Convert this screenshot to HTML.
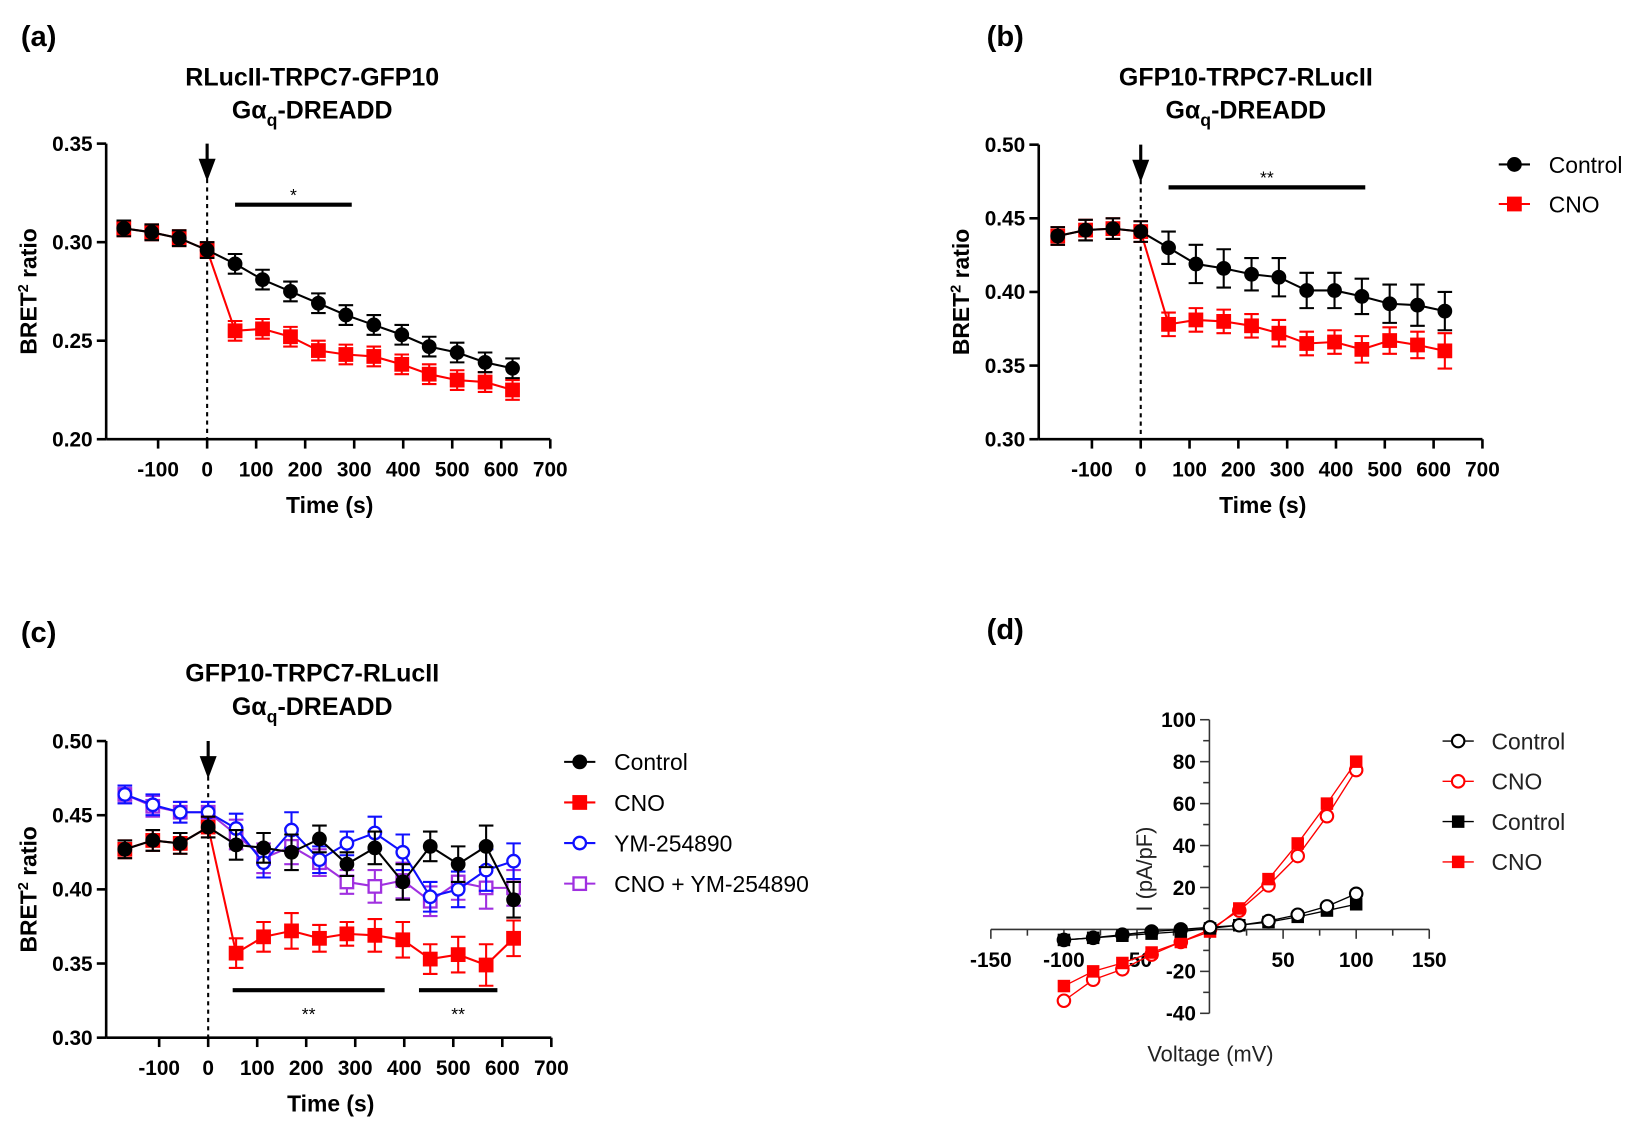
<!DOCTYPE html>
<html><head><meta charset="utf-8"><style>
body{margin:0;background:#fff;}
svg{display:block;font-family:"Liberation Sans",Arial,sans-serif;}
</style></head><body>
<svg id="fig" width="1632" height="1130" viewBox="0 0 1568 1085.7">
<text x="20" y="44" font-size="28" font-weight="bold">(a)</text>
<text x="948" y="44" font-size="28" font-weight="bold">(b)</text>
<text x="20" y="617" font-size="28" font-weight="bold">(c)</text>
<text x="948" y="614" font-size="28" font-weight="bold">(d)</text>
<g id="pa"></g>
<g id="pb"></g>
<g id="pc"></g>
<g id="pd"></g>
</svg>
<script>
const times=[-170,-113,-57,0,57,113,170,227,283,340,397,453,510,567,623];
const xTicks=[-100,0,100,200,300,400,500,600,700];
const aControl=[0.307,0.305,0.302,0.296,0.289,0.281,0.275,0.269,0.263,0.258,0.253,0.247,0.244,0.239,0.236];
const aCNO=[0.307,0.305,0.302,0.296,0.255,0.256,0.252,0.245,0.243,0.242,0.238,0.233,0.230,0.229,0.225];
const aErr=[0.004,0.004,0.004,0.004,0.005,0.005,0.005,0.005,0.005,0.005,0.005,0.005,0.005,0.005,0.005];
const aYTicks=[0.20,0.25,0.30,0.35];
const bControl=[0.438,0.442,0.443,0.441,0.430,0.419,0.416,0.412,0.410,0.401,0.401,0.397,0.392,0.391,0.387];
const bCNO=[0.438,0.442,0.443,0.441,0.378,0.381,0.380,0.377,0.372,0.365,0.366,0.361,0.367,0.364,0.360];
const bErrC=[0.006,0.007,0.007,0.007,0.011,0.013,0.013,0.011,0.013,0.012,0.012,0.012,0.013,0.014,0.013];
const bErrN=[0.006,0.007,0.007,0.007,0.008,0.008,0.008,0.008,0.009,0.008,0.008,0.009,0.009,0.009,0.012];
const bYTicks=[0.30,0.35,0.40,0.45,0.50];
const cControl=[0.427,0.433,0.431,0.442,0.430,0.428,0.425,0.434,0.417,0.428,0.405,0.429,0.417,0.429,0.393];
const cCNO=[0.427,0.433,0.431,0.442,0.357,0.368,0.372,0.367,0.370,0.369,0.366,0.353,0.356,0.349,0.367];
const cYM=[0.464,0.457,0.452,0.452,0.441,0.418,0.440,0.420,0.431,0.438,0.425,0.395,0.400,0.413,0.419];
const cCNOYM=[0.464,0.456,0.452,0.452,0.437,0.421,0.429,0.418,0.405,0.402,0.406,0.392,0.405,0.401,0.401];
const cErr=[0.006,0.007,0.007,0.007,0.010,0.010,0.012,0.009,0.008,0.011,0.012,0.010,0.012,0.014,0.012];
const cYTicks=[0.30,0.35,0.40,0.45,0.50];
const dV=[-100,-80,-60,-40,-20,0,20,40,60,80,100];
const dCtrlO=[-5,-4,-2.5,-1,0,1,2,4,7,11,17];
const dCNOO=[-34,-24,-19,-12,-6,0,9,21,35,54,76];
const dCtrlS=[-5,-4,-3,-2,-1,0.5,2,3.5,6,9,12];
const dCNOS=[-27,-20,-16,-11,-6,-1,10,24,41,60,80];
const dXTicks=[-150,-100,-50,50,100,150];
const dYTicks=[-40,-20,20,40,60,80,100];

const NS="http://www.w3.org/2000/svg";
function mk(p,t,a,txt){const e=document.createElementNS(NS,t);for(const k in a)e.setAttribute(k,a[k]);if(txt!==undefined)e.textContent=txt;p.appendChild(e);return e;}

function marker(g,shape,cx,cy,color,filled){
  let e;
  if(shape==='circle')e=mk(g,'circle',{cx:cx,cy:cy,r:6,fill:filled?color:'#fff',stroke:color,'stroke-width':2.2});
  else e=mk(g,'rect',{x:cx-6,y:cy-6,width:12,height:12,fill:filled?color:'#fff',stroke:color,'stroke-width':2.2});
  
  
}

function timePanel(id,o){
  const g=document.getElementById(id);
  const X=t=>o.x0+t*o.sx, Y=v=>o.yb-(v-o.ymin)/(o.ymax-o.ymin)*(o.yb-o.yt);
  const ttl=mk(g,'text',{x:o.tx,y:o.ty,'font-size':24,'font-weight':'bold','text-anchor':'middle'},o.title);
  
  const t2=mk(g,'text',{x:o.tx,y:o.ty+32,'font-size':24,'font-weight':'bold','text-anchor':'middle'});
  
  t2.innerHTML='Gα<tspan dy="7" font-size="17">q</tspan><tspan dy="-7">-DREADD</tspan>';
  const ax=mk(g,'g',{});
  mk(ax,'line',{x1:o.ax,y1:o.yt,x2:o.ax,y2:o.yb,stroke:'#000','stroke-width':2.5});
  mk(ax,'line',{x1:o.ax,y1:o.yb,x2:X(700),y2:o.yb,stroke:'#000','stroke-width':2.5});
  o.yTicks.forEach(v=>{mk(ax,'line',{x1:o.ax-9,y1:Y(v),x2:o.ax,y2:Y(v),stroke:'#000','stroke-width':2.5});
    const l=mk(ax,'text',{x:o.ax-13,y:Y(v)+7,'font-size':20,'font-weight':'bold','text-anchor':'end'},v.toFixed(2));
    });
  xTicks.forEach(t=>{mk(ax,'line',{x1:X(t),y1:o.yb,x2:X(t),y2:o.yb+9,stroke:'#000','stroke-width':2.5});
    const l=mk(ax,'text',{x:X(t),y:o.yb+36,'font-size':20,'font-weight':'bold','text-anchor':'middle'},String(t));
    });
  const xl=mk(g,'text',{x:X(250),y:o.yb+71,'font-size':22,'font-weight':'bold','text-anchor':'middle'},'Time (s)');
  
  const yc=(o.yt+o.yb)/2;
  const yl=mk(g,'text',{x:o.ax-67,y:yc,'font-size':22,'font-weight':'bold','text-anchor':'middle',transform:`rotate(-90 ${o.ax-67} ${yc})`});
  yl.innerHTML='BRET<tspan dy="-8" font-size="14">2</tspan><tspan dy="8"> ratio</tspan>';
  
  mk(g,'line',{x1:X(0),y1:o.yt+18,x2:X(0),y2:o.yb,stroke:'#000','stroke-width':2,'stroke-dasharray':'4,4'});
  const ar=mk(g,'path',{d:`M${X(0)} ${o.yt} V${o.yt+22} M${X(0)-6} ${o.yt+16} L${X(0)} ${o.yt+32} L${X(0)+6} ${o.yt+16} Z`,stroke:'#000','stroke-width':3,fill:'#000'});
  
  o.sig.forEach(s=>{const b=mk(g,'line',{x1:X(s[0]),y1:Y(s[2]),x2:X(s[1]),y2:Y(s[2]),stroke:'#000','stroke-width':4});
    
    const st=mk(g,'text',{x:X((s[0]+s[1])/2),y:Y(s[3])+6,'font-size':17,'text-anchor':'middle'},s[4]);
    });
  o.series.forEach(s=>{
    const sg=mk(g,'g',{});
    mk(sg,'polyline',{points:times.map((t,i)=>X(t)+','+Y(s.v[i])).join(' '),fill:'none',stroke:s.c,'stroke-width':2});
    times.forEach((t,i)=>{const x=X(t),y1=Y(s.v[i]+s.e[i]),y2=Y(s.v[i]-s.e[i]);
      mk(sg,'path',{d:`M${x} ${y1}V${y2}M${x-7} ${y1}H${x+7}M${x-7} ${y2}H${x+7}`,stroke:s.c,'stroke-width':2,fill:'none'});});
    times.forEach((t,i)=>marker(sg,s.shape,X(t),Y(s.v[i]),s.c,s.fill));
  });
  if(o.legend){o.legend.items.forEach((s,i)=>{const y=o.legend.y+i*o.legend.dy;
    const lg=mk(g,'g',{});
    mk(lg,'line',{x1:o.legend.x,y1:y,x2:o.legend.x+30,y2:y,stroke:s.c,'stroke-width':2});
    marker(lg,s.shape,o.legend.x+15,y,s.c,s.fill);
    mk(lg,'text',{x:o.legend.x+48,y:y+8,'font-size':22},s.label);});}
}
const BLK='#000',RED='#ff0000',BLU='#1010ff',PUR='#a030e0';
timePanel('pa',{x0:199,sx:0.471,ax:102,yt:138,yb:422,ymin:0.20,ymax:0.35,yTicks:aYTicks,title:'RLucII-TRPC7-GFP10',tx:300,ty:82,
  sig:[[57,295,0.319,0.324,'*']],
  series:[{name:'cno',v:aCNO,e:aErr,c:RED,shape:'square',fill:true},{name:'control',v:aControl,e:aErr,c:BLK,shape:'circle',fill:true}]});
timePanel('pb',{x0:1096,sx:0.469,ax:998,yt:139,yb:422,ymin:0.30,ymax:0.50,yTicks:bYTicks,title:'GFP10-TRPC7-RLucII',tx:1197,ty:82,
  sig:[[57,460,0.471,0.478,'**']],
  series:[{name:'cno',v:bCNO,e:bErrN,c:RED,shape:'square',fill:true},{name:'control',v:bControl,e:bErrC,c:BLK,shape:'circle',fill:true}],
  legend:{x:1440,y:158,dy:38,items:[{label:'Control',c:BLK,shape:'circle',fill:true},{label:'CNO',c:RED,shape:'square',fill:true}]}});
timePanel('pc',{x0:200,sx:0.471,ax:102,yt:712,yb:997,ymin:0.30,ymax:0.50,yTicks:cYTicks,title:'GFP10-TRPC7-RLucII',tx:300,ty:655,
  sig:[[50,360,0.332,0.316,'**'],[430,590,0.332,0.316,'**']],
  series:[{name:'cno-ym',v:cCNOYM,e:cErr,c:PUR,shape:'square',fill:false},{name:'ym',v:cYM,e:cErr,c:BLU,shape:'circle',fill:false},
    {name:'cno',v:cCNO,e:cErr,c:RED,shape:'square',fill:true},{name:'control',v:cControl,e:cErr,c:BLK,shape:'circle',fill:true}],
  legend:{x:542,y:732,dy:39,items:[{label:'Control',c:BLK,shape:'circle',fill:true},{label:'CNO',c:RED,shape:'square',fill:true},
    {label:'YM-254890',c:BLU,shape:'circle',fill:false},{label:'CNO + YM-254890',c:PUR,shape:'square',fill:false}]}});

(function(){
  const g=document.getElementById('pd');
  const X=v=>1162.6+v*1.404, Y=i=>893-i*2.015;
  const ax=mk(g,'g',{});
  mk(ax,'line',{x1:X(-150),y1:Y(0),x2:X(150),y2:Y(0),stroke:'#333','stroke-width':1.5});
  mk(ax,'line',{x1:1162,y1:Y(100),x2:1162,y2:Y(-40),stroke:'#333','stroke-width':1.5});
  for(let v=-150;v<=150;v+=25){mk(ax,'line',{x1:X(v),y1:Y(0),x2:X(v),y2:Y(0)+(v%50===0?9:6),stroke:'#333','stroke-width':1.5});}
  for(let v=-40;v<=100;v+=10){mk(ax,'line',{x1:1162,y1:Y(v),x2:1162-(v%20===0?9:6),y2:Y(v),stroke:'#333','stroke-width':1.5});}
  dXTicks.forEach(v=>{const l=mk(ax,'text',{x:X(v),y:Y(0)+36,'font-size':20,'font-weight':'bold','text-anchor':'middle'},String(v));
    });
  dYTicks.forEach(v=>{const l=mk(ax,'text',{x:1149,y:Y(v)+7,'font-size':20,'font-weight':'bold','text-anchor':'end'},String(v));
    });
  const xl=mk(g,'text',{x:1163,y:1020,'font-size':21,'text-anchor':'middle',fill:'#222'},'Voltage (mV)');
  
  const yl=mk(g,'text',{x:1107,y:835,'font-size':21,'text-anchor':'middle',fill:'#222',transform:'rotate(-90 1107 835)'},'I (pA/pF)');
  
  const ser=[{name:'cno-open',v:dCNOO,c:RED,shape:'circle',fill:false},{name:'cno-filled',v:dCNOS,c:RED,shape:'square',fill:true},
    {name:'control-filled',v:dCtrlS,c:BLK,shape:'square',fill:true},{name:'control-open',v:dCtrlO,c:BLK,shape:'circle',fill:false}];
  ser.forEach(s=>{const sg=mk(g,'g',{});
    mk(sg,'polyline',{points:dV.map((v,i)=>X(v)+','+Y(s.v[i])).join(' '),fill:'none',stroke:s.c,'stroke-width':1.3});
    dV.forEach((v,i)=>{const x=X(v),y=Y(s.v[i]);
      let e=s.shape==='circle'?mk(sg,'circle',{cx:x,cy:y,r:6,fill:(v<0&&s.c===BLK)?BLK:'#fff',stroke:s.c,'stroke-width':2}):
        mk(sg,'rect',{x:x-6,y:y-6,width:12,height:12,fill:s.c});
      });});
  const items=[{l:'Control',c:BLK,s:'circle'},{l:'CNO',c:RED,s:'circle'},{l:'Control',c:BLK,s:'square'},{l:'CNO',c:RED,s:'square'}];
  items.forEach((it,i)=>{const y=712+i*38.7;const lg=mk(g,'g',{});
    
    mk(lg,'line',{x1:1386,y1:y,x2:1416,y2:y,stroke:it.c,'stroke-width':1.3});
    if(it.s==='circle')mk(lg,'circle',{cx:1401,cy:y,r:6,fill:'#fff',stroke:it.c,'stroke-width':2});
    else mk(lg,'rect',{x:1395,y:y-6,width:12,height:12,fill:it.c});
    mk(lg,'text',{x:1433,y:y+8,'font-size':22,fill:'#222'},it.l);});
})();
</script>
</body></html>
